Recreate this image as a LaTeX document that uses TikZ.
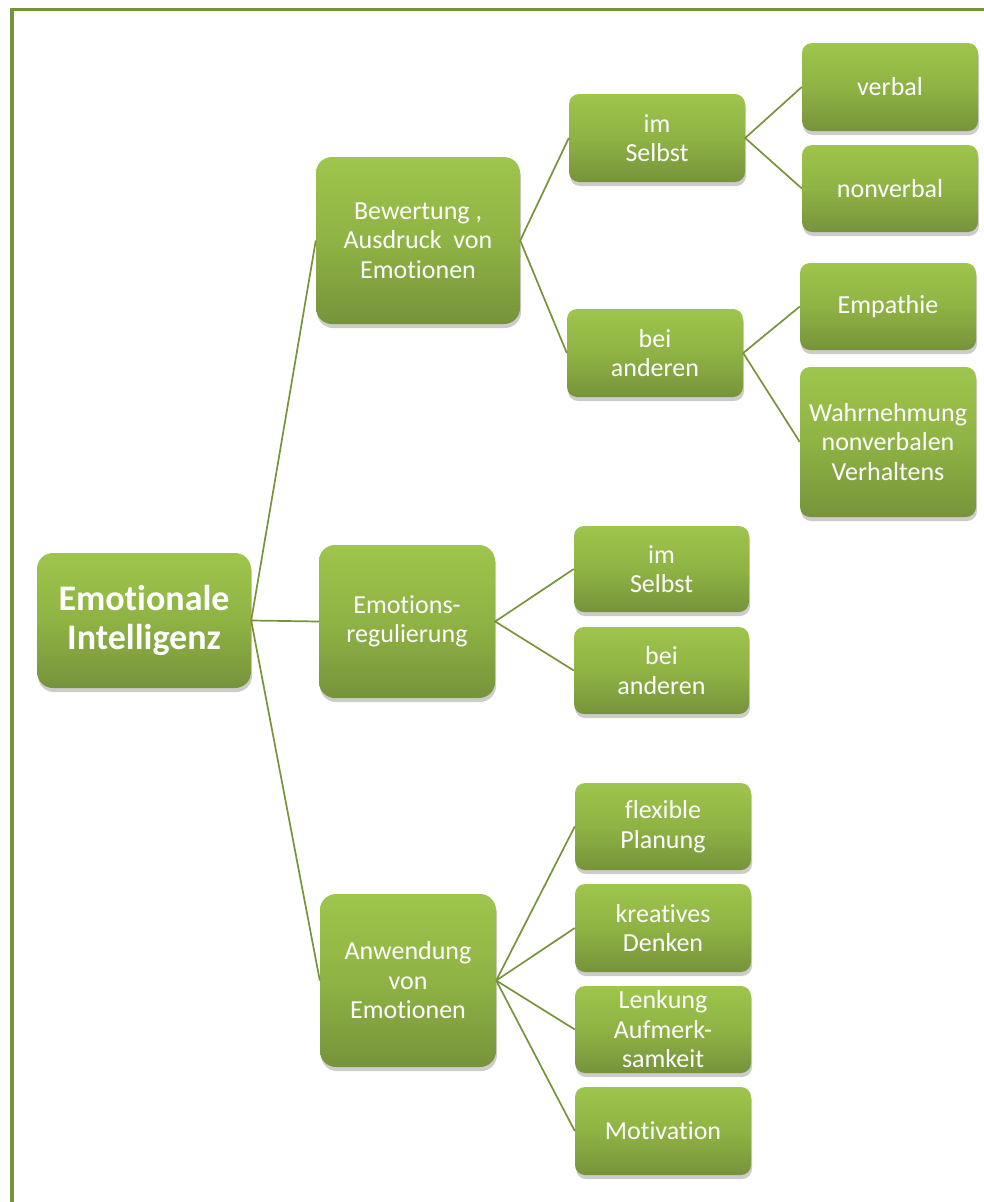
\documentclass[tikz,border=0pt]{standalone}
\usepackage{fontspec}
\setmainfont{Carlito}[Ligatures={NoCommon,NoContextual}]
\usetikzlibrary{shadows}
\definecolor{lgreen}{RGB}{158,197,76}
\definecolor{mgreen}{RGB}{143,179,68}
\definecolor{dgreen}{RGB}{118,147,59}
\definecolor{lngreen}{RGB}{119,147,60}
\tikzset{
	box/.style={rounded corners=10pt,top color=lgreen,bottom color=dgreen,middle color=mgreen,
		text=white,align=center,inner sep=2pt,font=\fontsize{26pt}{29.5pt}\selectfont,
		drop shadow={shadow xshift=1pt,shadow yshift=-4pt,opacity=.2,fill=black}},
	leaf/.style={box,minimum width=176pt,minimum height=88pt},
	big/.style={box,rounded corners=16pt},
	lnk/.style={lngreen,line width=1.7pt},
}
\begin{document}
\begin{tikzpicture}[x=1pt,y=-1pt]
\useasboundingbox (0,0) rectangle (984,1202);
% Rahmen links und oben
\draw[lngreen,line width=4pt] (12,1202) -- (12,8);
\draw[lngreen,line width=3pt] (10,9.5) -- (984,9.5);
% Wurzel
\node[big,minimum width=214pt,minimum height=135pt,font=\fontsize{36pt}{39pt}\selectfont\bfseries]
	(EI) at (144,620.5) {Emotionale\\Intelligenz};
% erste Ebene
\node[big,minimum width=204pt,minimum height=167pt] (bew) at (418,240.5) {Bewertung ,\\Ausdruck\ \ von\\Emotionen};
\node[big,minimum width=176pt,minimum height=153pt] (reg) at (407,621.5) {Emotions-\\regulierung};
\node[big,minimum width=176pt,minimum height=173pt] (anw) at (408,980.5) {Anwendung\\von\\Emotionen};
% Bewertung, Ausdruck
\node[leaf] (bewSelbst) at (657,138) {im\\Selbst};
\node[leaf] (bewAndere) at (655,353) {bei\\anderen};
\node[leaf] (verbal) at (890,87) {verbal};
\node[leaf,minimum height=87pt] (nonverbal) at (890,188.5) {nonverbal};
\node[leaf,minimum height=87pt] (empathie) at (888,306.5) {Empathie};
\node[leaf,minimum height=150pt] (wahrn) at (888,442) {Wahrnehmung\\nonverbalen\\Verhaltens};
% Regulierung
\node[leaf,minimum width=175pt,minimum height=86pt] (regSelbst) at (661.5,569) {im\\Selbst};
\node[leaf,minimum width=175pt,minimum height=87pt] (regAndere) at (661.5,670.5) {bei\\anderen};
% Anwendung
\node[leaf,minimum height=87pt] (planung) at (663,826.5) {flexible\\Planung};
\node[leaf] (denken) at (663,928) {kreatives\\Denken};
\node[leaf,minimum height=87pt] (lenkung) at (663,1029.5) {Lenkung\\Aufmerk-\\samkeit};
\node[leaf] (motiv) at (663,1131) {Motivation};
% Verbindungen
\draw[lnk] (bew.west) -- (EI.east) -- (anw.west)
	(EI.east) -- (reg.west);
\draw[lnk] (bewSelbst.west) -- (bew.east) -- (bewAndere.west);
\draw[lnk] (verbal.west) -- (bewSelbst.east) -- (nonverbal.west);
\draw[lnk] (empathie.west) -- (bewAndere.east) -- (wahrn.west);
\draw[lnk] (regSelbst.west) -- (reg.east) -- (regAndere.west);
\foreach \n in {planung,denken,lenkung,motiv}
	\draw[lnk] (anw.east) -- (\n.west);
\end{tikzpicture}
\end{document}
